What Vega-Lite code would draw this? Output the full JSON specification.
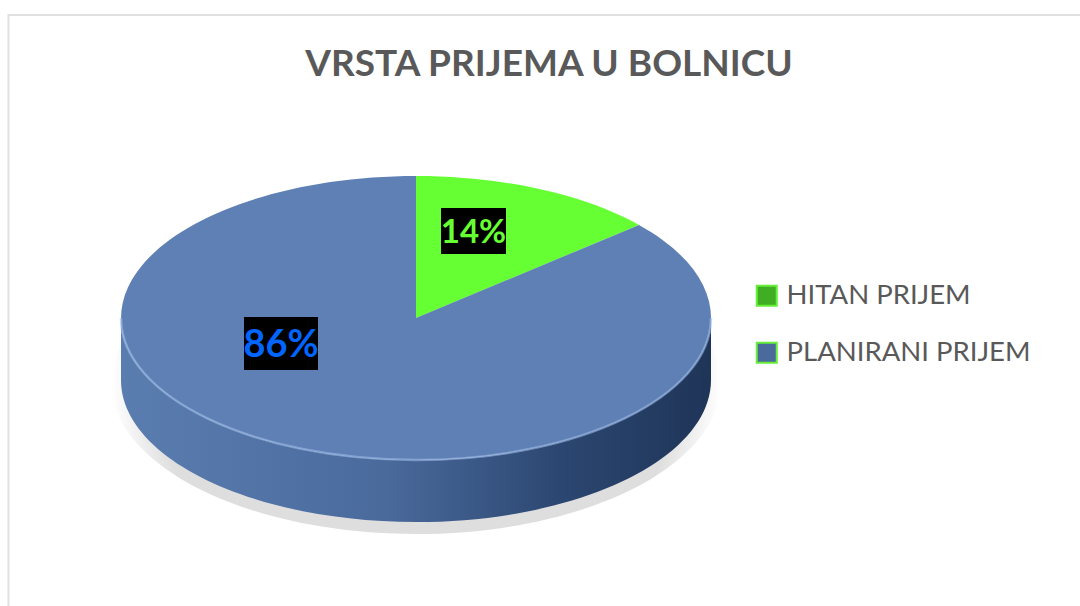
{
"$schema":"https://vega.github.io/schema/vega-lite/v6.json",
"width":1080,"height":606,"padding":0,"autosize":{"type":"none"},
"background":"#ffffff",
"config":{"view":{"stroke":null}},
"title":{"text":"VRSTA PRIJEMA U BOLNICU","font":"Lato","fontSize":37,"fontWeight":"bold","color":"#595959","anchor":"middle","frame":"group","dx":9,"dy":38,"offset":-75,"baseline":"alphabetic"},
"data":{"values":[{"vrsta":"HITAN PRIJEM","udio":14,"oznaka":"14%"},{"vrsta":"PLANIRANI PRIJEM","udio":86,"oznaka":"86%"}]},
"layer":[
{"mark":{"type":"point","filled":true,"size":0,"opacity":1},
 "encoding":{"color":{"field":"vrsta","type":"nominal","title":null,"scale":{"domain":["HITAN PRIJEM","PLANIRANI PRIJEM"],"range":["#3fae22","#4a6a9c"]},
   "legend":{"orient":"none","legendX":753,"legendY":282,"symbolType":"square","symbolSize":400,"symbolStrokeColor":"#66ee38","symbolStrokeWidth":2,"symbolOpacity":1,"labelFont":"Lato","labelFontSize":27.5,"labelColor":"#595959","labelOffset":6,"rowPadding":28,"labelLimit":400}}}},
{"transform":[{"filter":"datum.udio==86"}],"mark":{"type":"point","filled":false,"size":4,"opacity":1,"stroke":"#e0e0e0","strokeWidth":2,"shape":"M -531.5 303 L -531.5 -288 L 540 -288"},"encoding":{}},
{"transform":[{"filter":"datum.udio==86"}],"mark":{"type":"point","filled":true,"size":4,"opacity":1,"fill":{"gradient":"radial","x1":0.5,"y1":0.5,"x2":0.5,"y2":0.5,"r1":0.42,"r2":0.5,"stops":[{"offset":0,"color":"#dedede"},{"offset":1,"color":"#ffffff"}]},"shape":"M -429 79 A 305 152 0 1 1 181 79 A 305 152 0 1 1 -429 79 Z"},"encoding":{}},
{"transform":[{"filter":"datum.udio==86"}],"mark":{"type":"point","filled":true,"size":4,"opacity":1,"fill":{"gradient":"linear","x1":0,"y1":0,"x2":1,"y2":0,"stops":[{"offset":0,"color":"#5a7db0"},{"offset":0.45,"color":"#4a6a9c"},{"offset":0.75,"color":"#2b4670"},{"offset":1,"color":"#1f3558"}]},"shape":"M -419 15 A 295 142 0 0 0 171 15 L 171 77 A 295 142 0 0 1 -419 77 Z"},"encoding":{}},
{"transform":[{"filter":"datum.udio==14"}],"mark":{"type":"point","filled":true,"size":4,"opacity":1,"fill":"#66ff33","shape":"M -124 15 L -124 -127 A 295 142 0 0 1 99 -78 Z"},"encoding":{}},
{"transform":[{"filter":"datum.udio==86"}],"mark":{"type":"point","filled":true,"size":4,"opacity":1,"fill":"#5f80b5","shape":"M -124 15 L -124 -127 A 295 142 0 1 0 99 -78 Z"},"encoding":{}},
{"transform":[{"filter":"datum.udio==86"}],"mark":{"type":"point","filled":false,"size":4,"opacity":0.6,"stroke":"#9dbbe8","strokeWidth":2.5,"shape":"M -419 15 A 295 142 0 0 0 171 15"},"encoding":{}},
{"transform":[{"filter":"datum.udio==14"}],"mark":{"type":"point","filled":true,"size":4,"opacity":1,"fill":"#000000","shape":"M -99 -95 L -34 -95 L -34 -49 L -99 -49 Z"},"encoding":{}},
{"transform":[{"filter":"datum.udio==86"}],"mark":{"type":"point","filled":true,"size":4,"opacity":1,"fill":"#000000","shape":"M -296 14 L -222 14 L -222 67 L -296 67 Z"},"encoding":{}},
{"transform":[{"filter":"datum.udio==14"}],"mark":{"type":"text","font":"Lato","fontSize":33,"fontWeight":"bold","color":"#66ff33","dx":-66.5,"dy":-70,"align":"center","baseline":"middle"},"encoding":{"text":{"field":"oznaka"}}},
{"transform":[{"filter":"datum.udio==86"}],"mark":{"type":"text","font":"Lato","fontSize":38,"fontWeight":"bold","color":"#0066ff","dx":-259,"dy":43,"align":"center","baseline":"middle"},"encoding":{"text":{"field":"oznaka"}}}
]
}
